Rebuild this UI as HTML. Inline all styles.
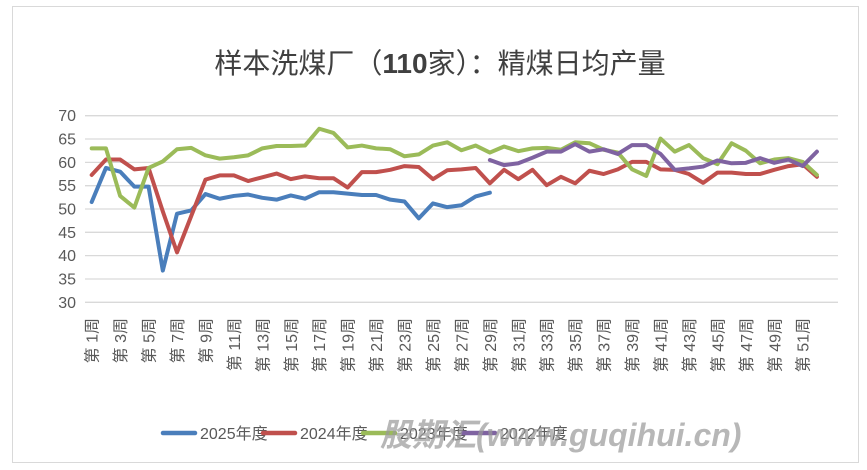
<!DOCTYPE html><html><head><meta charset="utf-8"><style>
body{margin:0;background:#fff;width:867px;height:465px;overflow:hidden;font-family:"Liberation Sans","Noto Sans CJK SC",sans-serif}
</style></head><body>
<svg width="867" height="465" xmlns="http://www.w3.org/2000/svg" font-family="Liberation Sans, Noto Sans CJK SC, sans-serif">
<rect x="12.5" y="6.5" width="846" height="456" fill="#fff" stroke="#d9d9d9"/>
<text x="440" y="73" font-size="28" text-anchor="middle" fill="#404040">样本洗煤厂（<tspan font-weight="bold">110</tspan>家）：精煤日均产量</text>
<g id="grid" stroke="#d9d9d9" stroke-width="1.3"></g>
<g id="ylab" font-size="16" fill="#595959" text-anchor="end"></g>
<g id="xlab" font-size="16" fill="#595959"></g>
<g id="series" fill="none" stroke-width="4" stroke-linejoin="round" stroke-linecap="round"></g>
<g font-size="16" fill="#595959">
<line x1="163" y1="433" x2="195" y2="433" stroke="#4a7ebb" stroke-width="4.5" stroke-linecap="round"/><text x="200" y="439">2025年度</text>
<line x1="263" y1="433" x2="295" y2="433" stroke="#c0504d" stroke-width="4.5" stroke-linecap="round"/><text x="300" y="439">2024年度</text>
<line x1="363" y1="433" x2="395" y2="433" stroke="#9bbb59" stroke-width="4.5" stroke-linecap="round"/><text x="400" y="439">2023年度</text>
<line x1="463" y1="433" x2="495" y2="433" stroke="#7f63a1" stroke-width="4.5" stroke-linecap="round"/><text x="500" y="439">2022年度</text>
</g>
<text x="380" y="446" font-size="32" font-weight="bold" font-style="italic" fill="#9a9a9a" opacity="0.7">股期汇(www.guqihui.cn)</text>
</svg>
<script>
const ns="http://www.w3.org/2000/svg";
function el(p,t,a,txt){const e=document.createElementNS(ns,t);for(const k in a)e.setAttribute(k,a[k]);if(txt)e.textContent=txt;document.getElementById(p).appendChild(e);}
const Y=v=>115.7+(70-v)*4.665, X=w=>91.7+(w-1)*14.22;
for(let v=30;v<=70;v+=5){el("grid","line",{x1:85,x2:838,y1:Y(v),y2:Y(v)});el("ylab","text",{x:76,y:Y(v)+5.5},String(v));}
for(let w=1;w<=51;w+=2){el("xlab","text",{transform:`translate(${X(w)+6},${318}) rotate(-90)`,"text-anchor":"end"},"第 "+w+"周");}
const d={
"#4a7ebb":[51.5,58.8,58,54.8,54.8,36.8,49,49.7,53.2,52.2,52.8,53.1,52.4,52,52.9,52.2,53.6,53.6,53.3,53,53,52,51.6,48,51.2,50.4,50.8,52.7,53.5],
"#c0504d":[57.3,60.6,60.6,58.5,58.8,49.5,40.7,48.5,56.3,57.2,57.2,56,56.8,57.6,56.4,57,56.6,56.6,54.6,57.9,57.9,58.4,59.2,59,56.4,58.3,58.5,58.8,55.5,58.4,56.4,58.4,55.1,56.9,55.5,58.2,57.5,58.5,60.1,60.1,58.5,58.4,57.5,55.6,57.8,57.8,57.5,57.5,58.4,59.2,59.6,56.9],
"#9bbb59":[63,63,52.8,50.3,58.8,60.2,62.8,63.1,61.5,60.8,61.1,61.5,63,63.5,63.5,63.6,67.2,66.3,63.2,63.6,63,62.8,61.3,61.7,63.6,64.3,62.6,63.6,62.1,63.4,62.4,63,63.1,62.7,64.3,64.1,62.7,62.1,58.5,57.1,65.1,62.3,63.7,60.9,59.6,64.1,62.5,59.8,60.6,60.9,60.1,57.3]};
const purple=[60.5,59.4,59.8,61,62.3,62.3,63.9,62.3,62.8,61.8,63.7,63.7,61.8,58.4,58.7,59.1,60.4,59.8,59.9,60.9,59.9,60.6,59.2,62.3];
function poly(c,arr,start){el("series","polyline",{stroke:c,points:arr.map((v,i)=>X(start+i)+","+Y(v)).join(" ")});}
poly("#4a7ebb",d["#4a7ebb"],1);poly("#c0504d",d["#c0504d"],1);poly("#9bbb59",d["#9bbb59"],1);poly("#7f63a1",purple,29);
</script>
</body></html>
